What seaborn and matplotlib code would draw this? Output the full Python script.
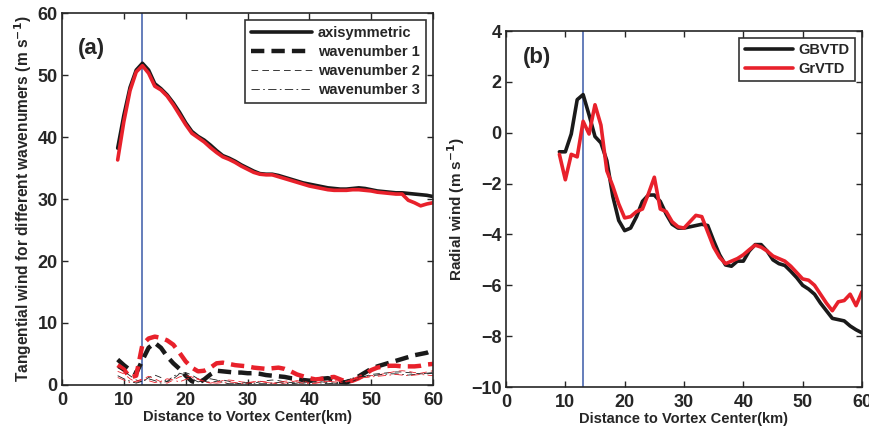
import numpy as np
import pandas as pd
import seaborn as sns
import matplotlib.pyplot as plt

# raio (km)
dist = list(range(9, 61))

# painel (a): vento tangencial por numero de onda
axi_gb = [38.2, 43.5, 48.0, 50.8, 51.9, 50.8, 48.6, 47.8, 46.8, 45.5, 44.0, 42.3, 40.9, 40.1, 39.5, 38.7,
          37.8, 37.0, 36.6, 36.1, 35.5, 35.0, 34.5, 34.1, 34.0, 34.0, 33.8, 33.5, 33.2, 32.9, 32.6, 32.4,
          32.2, 32.0, 31.8, 31.7, 31.6, 31.6, 31.7, 31.8, 31.7, 31.5, 31.3, 31.2, 31.1, 31.0, 31.0, 30.9,
          30.8, 30.7, 30.6, 30.4]
axi_gr = [36.3, 42.5, 47.5, 50.5, 51.5, 50.3, 48.2, 47.6, 46.6, 45.2, 43.6, 42.0, 40.6, 39.9, 39.2, 38.3,
          37.5, 36.8, 36.4, 35.9, 35.3, 34.8, 34.3, 34.0, 33.9, 33.9, 33.6, 33.3, 33.0, 32.7, 32.4, 32.1,
          31.9, 31.7, 31.5, 31.4, 31.4, 31.4, 31.5, 31.5, 31.4, 31.3, 31.1, 31.0, 30.9, 30.8, 30.8, 29.8,
          29.4, 28.9, 29.2, 29.4]
wn1_gb = [4.1, 3.2, 2.4, 1.9, 4.0, 6.0, 6.8, 6.0, 4.6, 3.5, 2.6, 1.5, 0.6, 0.3, 0.9, 1.7, 2.3, 2.2, 2.1,
          2.0, 2.0, 1.9, 1.9, 1.8, 1.6, 1.5, 1.4, 1.3, 1.1, 1.0, 0.8, 0.7, 0.8, 1.0, 1.1, 0.8, 0.5, 0.4,
          0.8, 1.4, 2.0, 2.6, 3.0, 3.3, 3.6, 3.9, 4.2, 4.5, 4.8, 5.0, 5.2, 5.6]
wn1_gr = [3.2, 2.5, 1.2, 1.5, 6.5, 7.5, 7.8, 7.6, 7.2, 6.5, 5.2, 3.8, 2.8, 2.2, 2.3, 2.8, 3.5, 3.6, 3.4,
          3.2, 3.1, 3.0, 2.8, 2.7, 2.6, 2.7, 2.8, 2.6, 2.2, 1.7, 1.4, 1.1, 0.9, 1.0, 1.2, 1.3, 0.9, 0.5,
          0.7, 1.1, 1.7, 2.4, 2.8, 3.0, 3.1, 3.1, 3.0, 3.0, 3.0, 3.1, 3.3, 3.4]
wn2_gb = [2.8, 2.2, 1.5, 0.8, 0.5, 1.2, 1.6, 1.2, 0.5, 1.0, 1.8, 2.0, 1.6, 1.0, 0.6, 0.4, 0.6, 0.8, 0.6,
          0.3, 0.2, 0.2, 0.3, 0.5, 0.7, 0.8, 0.7, 0.5, 0.4, 0.3, 0.3, 0.4, 0.5, 0.5, 0.4, 0.3, 0.2, 0.3,
          0.6, 1.0, 1.4, 1.7, 1.8, 1.9, 2.0, 2.1, 2.1, 2.0, 1.9, 1.8, 1.8, 1.9]
wn2_gr = [2.2, 1.8, 1.0, 0.4, 0.9, 1.4, 1.0, 0.5, 0.3, 0.8, 1.3, 1.5, 1.3, 0.9, 0.5, 0.3, 0.5, 0.7, 0.8,
          0.7, 0.5, 0.4, 0.5, 0.6, 0.5, 0.3, 0.2, 0.3, 0.5, 0.7, 0.6, 0.4, 0.3, 0.4, 0.6, 0.7, 0.6, 0.5,
          0.7, 1.0, 1.3, 1.5, 1.6, 1.8, 2.0, 2.2, 2.3, 2.2, 2.0, 1.9, 2.1, 2.3]
wn3_gb = [1.5, 1.0, 0.6, 0.3, 0.6, 1.0, 0.7, 0.3, 0.6, 1.4, 1.9, 1.6, 1.0, 0.5, 0.7, 1.0, 0.8, 0.4, 0.2,
          0.2, 0.3, 0.4, 0.3, 0.2, 0.2, 0.3, 0.4, 0.3, 0.2, 0.3, 0.5, 0.6, 0.5, 0.3, 0.2, 0.3, 0.5, 0.8,
          1.1, 1.3, 1.4, 1.5, 1.6, 1.7, 1.8, 1.8, 1.7, 1.6, 1.7, 1.8, 1.9, 2.0]
wn3_gr = [1.2, 0.8, 0.4, 0.6, 1.0, 0.7, 0.4, 0.6, 1.0, 0.8, 0.5, 0.9, 1.2, 1.0, 0.6, 0.4, 0.3, 0.4, 0.5,
          0.4, 0.2, 0.3, 0.5, 0.6, 0.4, 0.3, 0.4, 0.6, 0.7, 0.5, 0.3, 0.2, 0.3, 0.5, 0.6, 0.5, 0.4, 0.6,
          0.9, 1.1, 1.2, 1.3, 1.4, 1.5, 1.6, 1.7, 1.6, 1.5, 1.6, 1.7, 1.6, 1.5]

# painel (b): vento radial
rad_gb = [-0.75, -0.75, -0.05, 1.3, 1.5, 0.7, -0.15, -0.4, -1.1, -2.5, -3.45, -3.85, -3.75, -3.3, -2.7,
          -2.45, -2.45, -2.7, -3.2, -3.6, -3.75, -3.75, -3.7, -3.65, -3.6, -3.65, -4.25, -4.8, -5.2, -5.25,
          -5.05, -5.05, -4.65, -4.4, -4.4, -4.65, -5.0, -5.15, -5.22, -5.45, -5.7, -6.0, -6.15, -6.35,
          -6.7, -7.0, -7.3, -7.35, -7.4, -7.6, -7.75, -7.87]
rad_gr = [-0.85, -1.85, -0.85, -0.95, 0.45, -0.05, 1.1, 0.3, -1.5, -2.1, -2.8, -3.35, -3.3, -3.1, -3.0,
          -2.4, -1.75, -3.0, -3.1, -3.5, -3.7, -3.75, -3.5, -3.25, -3.3, -3.9, -4.5, -4.9, -5.15, -5.05,
          -4.95, -4.8, -4.6, -4.42, -4.5, -4.65, -4.85, -4.95, -5.05, -5.25, -5.5, -5.75, -5.8, -6.0,
          -6.35, -6.7, -7.0, -6.65, -6.6, -6.35, -6.8, -6.25]

rmw = 13  # raio de vento maximo

PRETO = '#1a1a1a'
VERMELHO = '#e8212b'
AZUL = '#3a5aa8'

sns.set_style("ticks")
plt.rcParams['font.family'] = ['Liberation Sans', 'DejaVu Sans']
plt.rcParams['font.weight'] = 'bold'
plt.rcParams['axes.labelweight'] = 'bold'
plt.rcParams['xtick.direction'] = 'in'
plt.rcParams['ytick.direction'] = 'in'

fig = plt.figure(figsize=(8.7, 4.29), dpi=100)
ax1 = fig.add_axes([0.0713, 0.1026, 0.4264, 0.867])
ax2 = fig.add_axes([0.5816, 0.0979, 0.4092, 0.8298])

# --- (a)
ax1.axvline(rmw, color=AZUL, linewidth=1.1, zorder=1)
estilos = [
    (axi_gb, axi_gr, '-', None, 2.6, 'axisymmetric'),
    (wn1_gb, wn1_gr, '--', (3.0, 1.6), 3.2, 'wavenumber 1'),
    (wn2_gb, wn2_gr, '--', (8, 5), 0.6, 'wavenumber 2'),
    (wn3_gb, wn3_gr, '-.', (10, 4, 2, 4), 0.6, 'wavenumber 3'),
]
handles = []
for gb, gr, ls, dash, lw, nome in estilos:
    sns.lineplot(x=dist, y=gb, color=PRETO, linewidth=lw, linestyle=ls, ax=ax1)
    linha = ax1.lines[-1]
    if dash is not None:
        linha.set_dashes(dash)
    handles.append((linha, nome))
    sns.lineplot(x=dist, y=gr, color=VERMELHO, linewidth=lw, linestyle=ls, ax=ax1)
    if dash is not None:
        ax1.lines[-1].set_dashes(dash)

ax1.set_xlim(0, 60)
ax1.set_ylim(0, 60)
ax1.set_xticks(range(0, 61, 10))
ax1.set_yticks(range(0, 61, 10))
ax1.set_xlabel('Distance to Vortex Center(km)', fontsize=10.5, labelpad=1)
ax1.set_ylabel('Tangential wind for different wavenumers (m s$^{\\mathbf{-1}}$)', fontsize=11.2, labelpad=3)
ax1.text(2.6, 54.3, '(a)', fontsize=16, va='center', ha='left')
leg1 = ax1.legend([h for h, n in handles], [n for h, n in handles], loc='upper right',
                  fontsize=10.5, frameon=True, fancybox=False, edgecolor='black',
                  handlelength=4.2, borderaxespad=0.5, labelspacing=0.35, handletextpad=0.4,
                  borderpad=0.4)
leg1.get_frame().set_linewidth(1.2)

# --- (b)
ax2.axvline(rmw, color=AZUL, linewidth=1.1, zorder=1)
sns.lineplot(x=dist, y=rad_gb, color=PRETO, linewidth=2.6, ax=ax2, label='GBVTD')
sns.lineplot(x=dist, y=rad_gr, color=VERMELHO, linewidth=2.6, ax=ax2, label='GrVTD')
ax2.set_xlim(0, 60)
ax2.set_ylim(-10, 4)
ax2.set_xticks(range(0, 61, 10))
ax2.set_yticks(range(-10, 5, 2))
ax2.set_xlabel('Distance to Vortex Center(km)', fontsize=10.5, labelpad=1)
ax2.set_ylabel('Radial wind (m s$^{\\mathbf{-1}}$)', fontsize=11, labelpad=3)
ax2.text(2.9, 2.95, '(b)', fontsize=16, va='center', ha='left')
leg2 = ax2.legend(loc='upper right', fontsize=10.5, frameon=True, fancybox=False, edgecolor='black',
                  handlelength=3.3, borderaxespad=0.5, labelspacing=0.3, handletextpad=0.4,
                  borderpad=0.35)
leg2.get_frame().set_linewidth(1.2)

for ax in (ax1, ax2):
    ax.tick_params(labelsize=13, length=4, width=1, top=True, right=True)
    ax.tick_params(axis='x', pad=5)
    ax.tick_params(axis='y', pad=3)
    for lab in ax.get_xticklabels() + ax.get_yticklabels():
        lab.set_fontweight('bold')
    for s in ax.spines.values():
        s.set_linewidth(1.2)
        s.set_visible(True)

plt.savefig('out.png', dpi=100)
plt.close()
